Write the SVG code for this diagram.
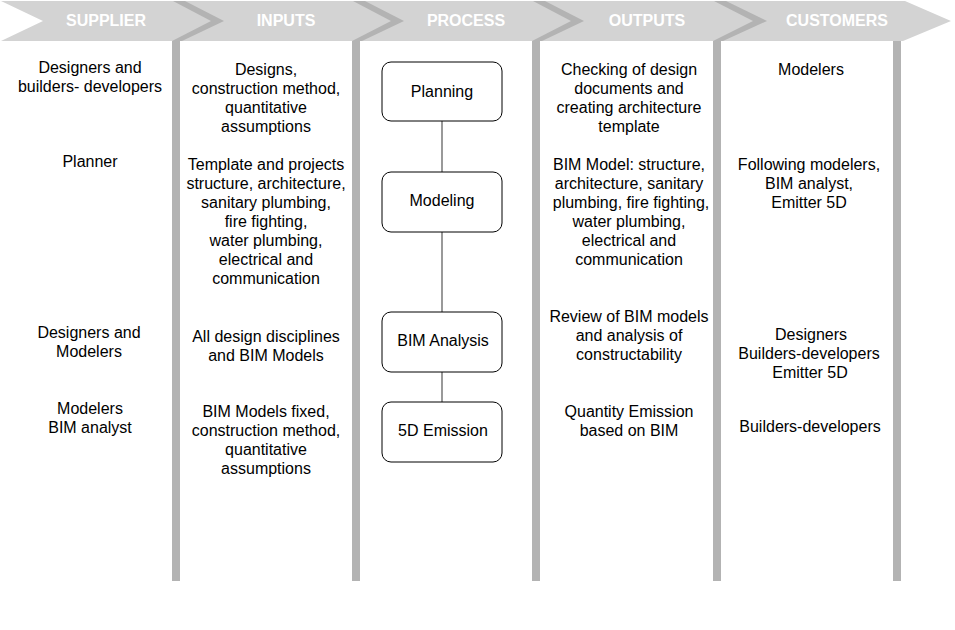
<svg xmlns="http://www.w3.org/2000/svg" width="955" height="630" viewBox="0 0 955 630">
<style>
.hdr{fill:#d3d3d3}
.sep{fill:#b3b3b3}
.bar{fill:#b3b3b3}
.ht{font-family:"Liberation Sans",Arial,Helvetica,sans-serif;font-size:16px;font-weight:bold;fill:#ffffff;text-anchor:middle}
.t{font-family:"Liberation Sans",Arial,Helvetica,sans-serif;font-size:16px;fill:#000000;text-anchor:middle}
.box{fill:#ffffff;stroke:#000000;stroke-width:1}
.con{stroke:#555555;stroke-width:1.2;fill:none}
</style>
<rect width="955" height="630" fill="#ffffff"/>
<g id="header">
<polygon class="hdr" points="1,1 905,1 951,21 903,41 1,41 43,21"/>
<polygon class="sep" points="173,1 185,1 224,21 182,41 172,41 211,21"/>
<polygon class="sep" points="353,1 365,1 404,21 362,41 352,41 391,21"/>
<polygon class="sep" points="533,1 545,1 584,21 542,41 532,41 571,21"/>
<polygon class="sep" points="714,1 726,1 767,21 723,41 713,41 753,21"/>
<text class="ht" x="106" y="26">SUPPLIER</text>
<text class="ht" x="286" y="26">INPUTS</text>
<text class="ht" x="466" y="26">PROCESS</text>
<text class="ht" x="647" y="26">OUTPUTS</text>
<text class="ht" x="837" y="26">CUSTOMERS</text>
</g>
<g id="bars">
<rect class="bar" x="172" y="41" width="8" height="540"/>
<rect class="bar" x="352" y="41" width="8" height="540"/>
<rect class="bar" x="532" y="41" width="8" height="540"/>
<rect class="bar" x="713" y="41" width="8" height="540"/>
<rect class="bar" x="893" y="41" width="8" height="540"/>
</g>
<g id="connectors">
<line class="con" x1="442" y1="121" x2="442" y2="172"/>
<line class="con" x1="442" y1="232" x2="442" y2="312"/>
<line class="con" x1="442" y1="372" x2="442" y2="402"/>
</g>
<g id="supplier">
<text class="t" x="90" y="73">Designers and</text>
<text class="t" x="90" y="92">builders- developers</text>
<text class="t" x="90" y="167">Planner</text>
<text class="t" x="89" y="338">Designers and</text>
<text class="t" x="89" y="357">Modelers</text>
<text class="t" x="90" y="414">Modelers</text>
<text class="t" x="90" y="433">BIM analyst</text>
</g>
<g id="inputs">
<text class="t" x="266" y="75">Designs,</text>
<text class="t" x="266" y="94">construction method,</text>
<text class="t" x="266" y="113">quantitative</text>
<text class="t" x="266" y="132">assumptions</text>
<text class="t" x="266" y="170">Template and projects</text>
<text class="t" x="266" y="189">structure, architecture,</text>
<text class="t" x="266" y="208">sanitary plumbing,</text>
<text class="t" x="266" y="227">fire fighting,</text>
<text class="t" x="266" y="246">water plumbing,</text>
<text class="t" x="266" y="265">electrical and</text>
<text class="t" x="266" y="284">communication</text>
<text class="t" x="266" y="342">All design disciplines</text>
<text class="t" x="266" y="361">and BIM Models</text>
<text class="t" x="266" y="417">BIM Models fixed,</text>
<text class="t" x="266" y="436">construction method,</text>
<text class="t" x="266" y="455">quantitative</text>
<text class="t" x="266" y="474">assumptions</text>
</g>
<g id="planning">
<rect class="box" x="382" y="62" width="120" height="59" rx="9"/>
<text class="t" x="442" y="97">Planning</text>
</g>
<g id="modeling">
<rect class="box" x="382" y="172" width="120" height="60" rx="9"/>
<text class="t" x="442" y="206">Modeling</text>
</g>
<g id="bim-analysis">
<rect class="box" x="382" y="312" width="120" height="60" rx="9"/>
<text class="t" x="443" y="346">BIM Analysis</text>
</g>
<g id="emission-5d">
<rect class="box" x="382" y="402" width="120" height="60" rx="9"/>
<text class="t" x="443" y="436">5D Emission</text>
</g>
<g id="outputs">
<text class="t" x="629" y="75">Checking of design</text>
<text class="t" x="629" y="94">documents and</text>
<text class="t" x="629" y="113">creating architecture</text>
<text class="t" x="629" y="132">template</text>
<text class="t" x="629" y="170">BIM Model: structure,</text>
<text class="t" x="629" y="189">architecture, sanitary</text>
<text class="t" x="631" y="208">plumbing, fire fighting,</text>
<text class="t" x="629" y="227">water plumbing,</text>
<text class="t" x="629" y="246">electrical and</text>
<text class="t" x="629" y="265">communication</text>
<text class="t" x="629" y="322">Review of BIM models</text>
<text class="t" x="629" y="341">and analysis of</text>
<text class="t" x="629" y="360">constructability</text>
<text class="t" x="629" y="417">Quantity Emission</text>
<text class="t" x="629" y="436">based on BIM</text>
</g>
<g id="customers">
<text class="t" x="811" y="75">Modelers</text>
<text class="t" x="809" y="170">Following modelers,</text>
<text class="t" x="809" y="189">BIM analyst,</text>
<text class="t" x="809" y="208">Emitter 5D</text>
<text class="t" x="811" y="340">Designers</text>
<text class="t" x="809" y="359">Builders-developers</text>
<text class="t" x="810" y="378">Emitter 5D</text>
<text class="t" x="810" y="432">Builders-developers</text>
</g>
</svg>
